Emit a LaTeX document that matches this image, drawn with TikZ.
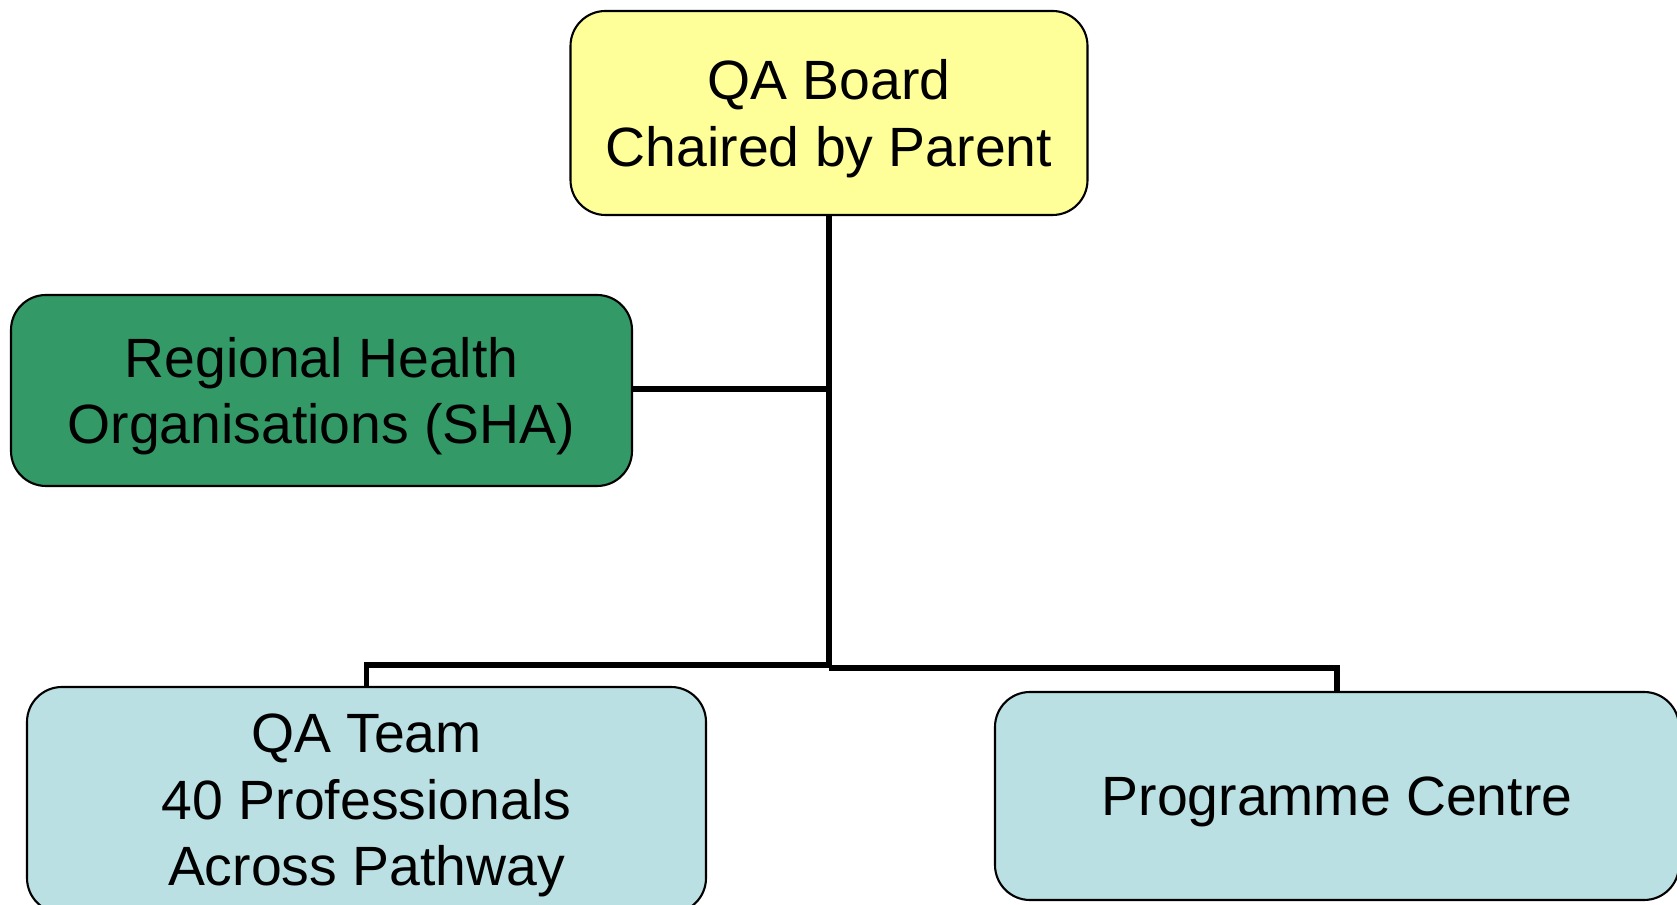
\documentclass[tikz,border=0pt]{standalone}
\usepackage{fontspec}
\setmainfont{Liberation Sans}
\definecolor{boardyellow}{HTML}{FFFF99}
\definecolor{regiongreen}{HTML}{339966}
\definecolor{teamblue}{HTML}{BBE0E3}
\tikzset{
  orgbox/.style={draw=black,line width=1.2pt,rounded corners=0.7cm},
  orgtext/.style={align=center,inner sep=0pt,yshift=-0.11cm,
    font=\fontsize{31.5}{37.8}\selectfont},
  link/.style={line width=3pt}
}
\begin{document}
\begin{tikzpicture}
		\useasboundingbox (0,0) rectangle (33.54,18.10);
		% boxes
		\node [orgbox,fill=boardyellow,minimum width=10.34cm,minimum height=4.08cm,
		  label={[orgtext]center:QA Board\\Chaired by Parent}] (board) at (16.58,15.84) {};
		\node [orgbox,fill=regiongreen,minimum width=12.42cm,minimum height=3.82cm,
		  label={[orgtext]center:Regional Health\\Organisations (SHA)}] (region) at (6.43,10.29) {};
		\node [orgbox,fill=teamblue,minimum width=13.58cm,minimum height=4.52cm,
		  label={[orgtext]center:QA Team\\40 Professionals\\Across Pathway}] (team) at (7.33,2.10) {};
		\node [orgbox,fill=teamblue,minimum width=13.68cm,minimum height=4.16cm,
		  label={[orgtext]center:Programme Centre}] (centre) at (26.74,2.18) {};
		% joints
		\coordinate (mid) at (16.58,10.32);
		\coordinate (low) at (16.58,4.80);
		\coordinate (lowr) at (16.58,4.74);
		% lines
		\draw [link] (board.south) -- (low);
		\draw [link] (region.east |- mid) -- (mid);
		\draw [link] (low) -| (team.north);
		\draw [link] (lowr) -| (centre.north);
\end{tikzpicture}
\end{document}
